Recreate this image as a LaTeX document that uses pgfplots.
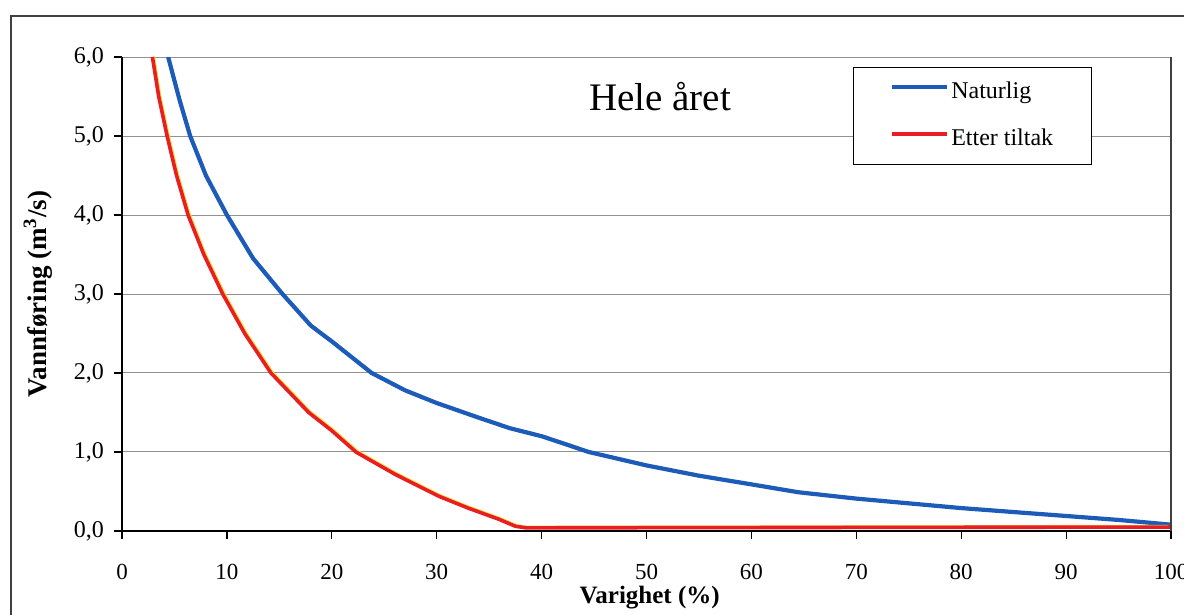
\documentclass[border=0pt]{standalone}
\usepackage{fontspec}
\setmainfont{Liberation Serif}
\usepackage{pgfplots}
\usepackage{pgfplotstable}
\pgfplotsset{compat=1.18}

\definecolor{natblue}{RGB}{28,92,184}
\definecolor{tiltred}{RGB}{232,30,34}
\definecolor{tiltyellow}{RGB}{248,222,70}
\definecolor{gridgray}{RGB}{145,145,145}

% Varighetskurve, naturlig vannføring
\pgfplotstableread{
x     q
4.4   6.00
5.0   5.70
5.5   5.45
6.5   5.00
8.0   4.50
10.0  4.00
12.5  3.45
15.3  3.00
18.0  2.60
20.0  2.40
23.8  2.00
27.0  1.78
30.0  1.62
34.1  1.43
37.0  1.30
40.0  1.20
44.5  1.00
50.0  0.83
55.0  0.70
60.0  0.59
64.5  0.49
70.0  0.41
75.0  0.35
80.0  0.29
85.0  0.24
90.0  0.19
95.0  0.14
100.0 0.08
}\naturlig

% Varighetskurve etter tiltak
\pgfplotstableread{
x     q
2.9   6.00
3.5   5.50
4.3   5.00
5.2   4.50
6.3   4.00
7.8   3.50
9.6   3.00
11.7  2.50
14.2  2.00
17.8  1.50
20.0  1.27
22.3  1.00
26.0  0.72
30.2  0.44
33.0  0.29
35.9  0.15
37.5  0.06
38.5  0.04
100.0 0.05
}\tiltak

\begin{document}
\begin{tikzpicture}
\path[use as bounding box] (0,0) rectangle (592pt,307.5pt);
% ramme rundt figuren
\draw[line width=0.8pt, black!75] (5.5pt,-2pt) -- (5.5pt,299.5pt) -- (595pt,299.5pt);
\begin{axis}[
  at={(61pt,42pt)}, anchor=south west,
  scale only axis, width=524.5pt, height=237pt,
  xmin=0, xmax=100, ymin=0, ymax=6,
  xtick={0,10,...,100}, ytick={0,1,...,6},
  axis lines=left, axis line style={-, line width=0.8pt, black},
  tick align=outside, major tick length=4pt,
  tick style={black, line width=0.6pt},
  ymajorgrids, grid style={gridgray, line width=0.5pt},
  clip mode=individual,
  /pgf/number format/assume math mode=true,
  yticklabel style={font=\fontsize{12}{14}\selectfont, xshift=-1.5pt,
    /pgf/number format/.cd, fixed, fixed zerofill, precision=1, use comma},
  xticklabel style={font=\fontsize{11.5}{13}\selectfont, yshift=-9pt,
    /pgf/number format/.cd, fixed, precision=0},
  xlabel={Varighet (\%)},
  ylabel={Vannføring (m\textsuperscript{3}/s)},
  xlabel style={font=\bfseries\fontsize{12.5}{14}\selectfont, at={(axis description cs:0.503,-0.141)}, anchor=center},
  ylabel style={font=\bfseries\fontsize{13.5}{15}\selectfont, at={(axis description cs:-0.080,0.5)}, anchor=center},
  legend style={at={(rel axis cs:0.697,0.979)}, anchor=north west,
    draw=black, line width=0.6pt, fill=white,
    font=\fontsize{12}{14}\selectfont,
    inner xsep=18pt, inner ysep=7pt, row sep=12.5pt,
    nodes={inner ysep=0pt, inner xsep=1.25pt, text height=8.5pt, text depth=2.5pt}},
  legend cell align=left,
  legend image code/.code={\draw[#1, line width=2pt] (0pt,3pt) -- (27.5pt,3pt);},
]
\addplot[natblue, line width=2.1pt] table[x=x, y=q] {\naturlig};
\addlegendentry{Naturlig}
\addplot[tiltyellow, line width=1.2pt, shift={(0.7pt,0.5pt)}, forget plot] table[x=x, y=q] {\tiltak};
\addplot[tiltred, line width=1.8pt] table[x=x, y=q] {\tiltak};
\addlegendentry{Etter tiltak}
\draw[black!75, line width=0.6pt] (rel axis cs:1,0) -- (rel axis cs:1,1);
\node[font=\fontsize{19.5}{22}\selectfont] at (rel axis cs:0.513,0.916) {Hele året};
\end{axis}
\end{tikzpicture}
\end{document}
